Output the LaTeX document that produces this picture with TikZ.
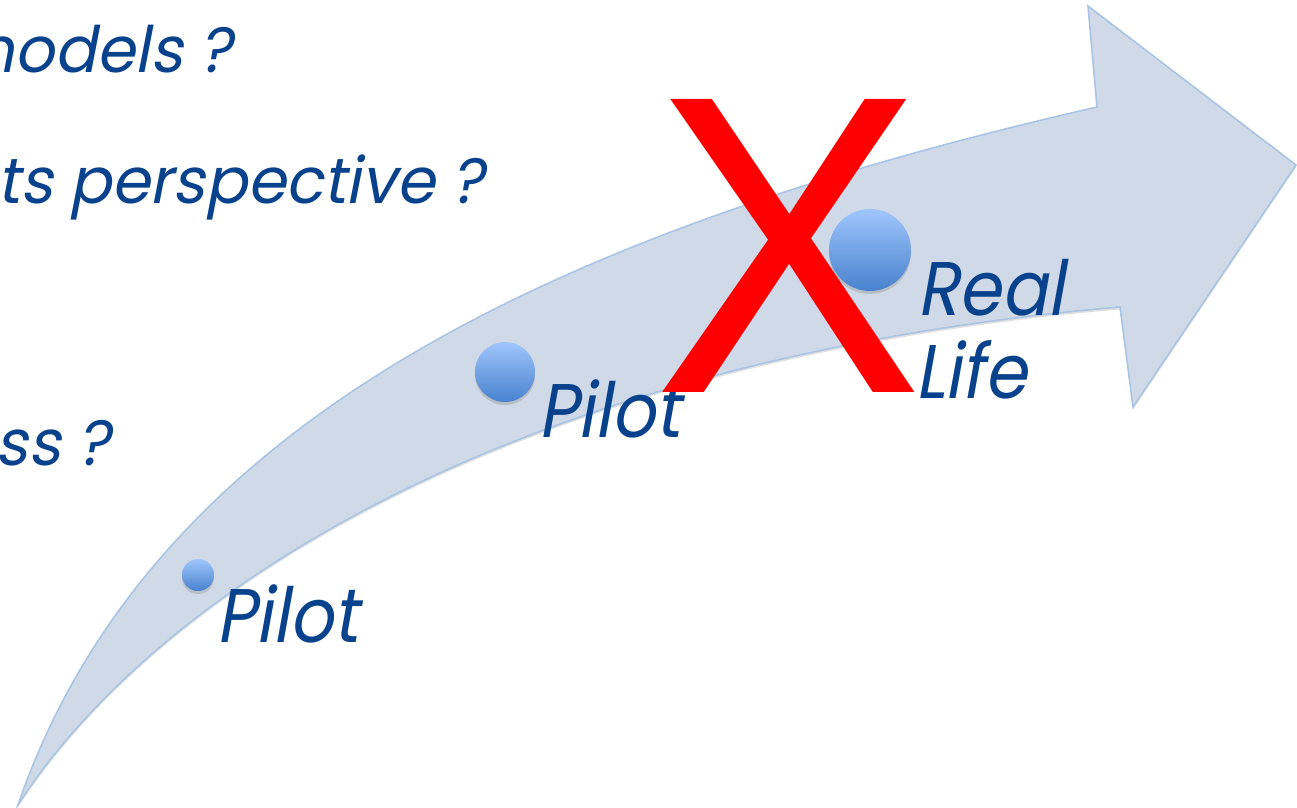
\documentclass[tikz,border=0pt]{standalone}
\usepackage{fontspec}
\newfontfamily\gothic[FakeSlant=0.2]{Poppins}
\newfontfamily\crossfont{Liberation Sans}
\usepackage{tikz}
\usetikzlibrary{shadows}
\definecolor{arrowfill}{RGB}{208,217,231}
\definecolor{arrowline}{RGB}{170,197,228}
\definecolor{balltop}{RGB}{160,198,252}
\definecolor{ballbottom}{RGB}{72,130,206}
\definecolor{textblue}{RGB}{8,66,140}
\tikzstyle{bigarrow} = [fill=arrowfill, draw=arrowline, line width=0.8pt, drop shadow={opacity=0.25, shadow xshift=0pt, shadow yshift=-1.2pt}]
\tikzstyle{ball} = [circle, inner sep=0pt, top color=balltop, bottom color=ballbottom, drop shadow={opacity=0.3, shadow xshift=0pt, shadow yshift=-1.5pt}]
\tikzstyle{stagetext} = [inner sep=0pt, xscale=0.9, text=textblue, font=\gothic\fontsize{38}{42}\selectfont]
\tikzstyle{question} = [inner sep=0pt, xscale=0.97, text=textblue, font=\gothic\fontsize{32}{36}\selectfont, anchor=base east]
\begin{document}
\begin{tikzpicture}[x=0.5pt, y=-0.5pt]
\useasboundingbox (0,0) rectangle (1297,808);
\clip (0,0) rectangle (1297,808);

% the road
\draw [bigarrow] (18,805) .. controls (150,420) and (560,230) .. (1097,107) -- (1088,6) -- (1296,165) -- (1133,407) -- (1120,307) .. controls (500,360) and (150,600) .. (18,805) -- cycle;

% questions on the left
\node (qmodels) [question] at (232,73) {models ?};
\node (qpersp) [question] at (484,204) {ts perspective ?};
\node (qbusiness) [question] at (110,465) {ess ?};

% stages
\node (ballone) [ball, minimum size=16pt] at (198,575) {};
\node (pilotone) [stagetext, anchor=base west] at (216,642) {Pilot};
\node (balltwo) [ball, minimum size=30pt] at (505,372) {};
\node (pilottwo) [stagetext, anchor=base west] at (538,437) {Pilot};
\node (ballthree) [ball, minimum size=41pt] at (870,250) {};
\node (real) [stagetext, anchor=base west] at (917,315) {Real};
\node (life) [stagetext, anchor=base west] at (915,398) {Life};

% crossed out
\node (cross) [inner sep=0pt, anchor=base, text=red, xscale=0.95, font=\crossfont\fontsize{213}{213}\selectfont] at (788,392) {X};
\end{tikzpicture}
\end{document}
